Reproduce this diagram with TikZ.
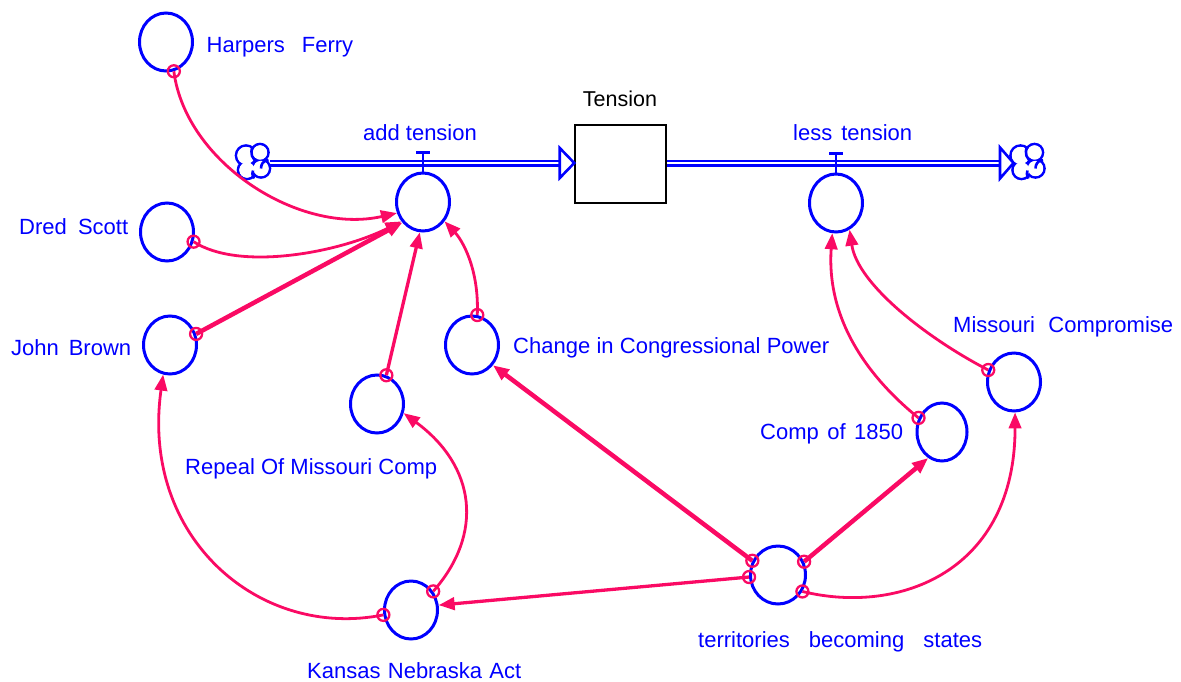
\documentclass[tikz,border=0pt]{standalone}
\usepackage{fontspec}
\setmainfont{Liberation Sans}
\usetikzlibrary{shapes.geometric,arrows.meta,calc}
\definecolor{vblue}{RGB}{0,0,255}
\definecolor{cpink}{RGB}{250,10,100}
\begin{document}
\begin{tikzpicture}[x=1pt,y=-1pt,
  var/.style={ellipse,draw=vblue,line width=3pt,minimum width=53pt,minimum height=58pt,inner sep=0pt},
  conn/.style={draw=cpink,line width=2.8pt,-{Triangle[length=16pt,width=12.5pt]}},
  thickconn/.style={conn,line width=4.5pt},
  medconn/.style={conn,line width=3.3pt},
  orig/.style={draw=cpink,line width=2.3pt},
  lbl/.style={text=vblue,inner sep=0pt,anchor=base west,font=\fontsize{22}{26}\selectfont},
  pipe/.style={draw=vblue,line width=2.6pt},
  cloudline/.style={draw=vblue,line width=2.6pt},
  stockbox/.style={rectangle,draw=black,line width=2.5pt,minimum width=91pt,minimum height=78pt,inner sep=0pt}
]
\useasboundingbox (0,0) rectangle (1181,681);

% ---- stock and flows ----
\node[stockbox] (stock) at (620.5,164) {};
\node[anchor=base,inner sep=0pt,font=\fontsize{21.5}{26}\selectfont] (stocklbl) at (620,106) {Tension};

\coordinate (cl) at (253,161.5);
\coordinate (cr) at (1027.5,161.5);
\foreach \c in {cl,cr}{
  \foreach \dx/\dy/\r in {-7/-6/10, 7/-9/8.5, 8/7/9, -6/8.5/9}
    \draw[cloudline] ($(\c)+(\dx,\dy)$) circle[radius=\r pt];
  \foreach \dx/\dy/\r in {-7/-6/10, 7/-9/8.5, 8/7/9, -6/8.5/9}
    \fill[white] ($(\c)+(\dx,\dy)$) circle[radius=\r pt - 1.3pt];
  \draw[cloudline] ($(\c)+(-0.5,-15)$) .. controls ($(\c)+(-3,-8)$) and ($(\c)+(-1,-2)$) .. ($(\c)+(4,-1)$);
  \draw[cloudline] ($(\c)+(15.5,-1.5)$) .. controls ($(\c)+(10,-1)$) and ($(\c)+(8,3)$) .. ($(\c)+(8,7)$);
  \draw[cloudline] ($(\c)+(1,17)$) .. controls ($(\c)+(-1,13)$) and ($(\c)+(-1,11)$) .. ($(\c)+(0,9)$);
}

\coordinate (clR) at ($(cl)+(17,1.5)$);
\coordinate (crL) at ($(cr)+(-14.5,1.5)$);

% left pipe
\draw[pipe] ($(clR)+(0,-2.2)$) -- ($(stock.west)+(-14,-3.2)$);
\draw[pipe] ($(clR)+(0,2.2)$) -- ($(stock.west)+(-14,1.2)$);
\draw[pipe,fill=white,line join=miter] ($(stock.west)+(-14,-16)$) -- ($(stock.west)+(0.5,-1)$) -- ($(stock.west)+(-14,14)$) -- cycle;
% right pipe
\draw[pipe] ($(stock.east)+(0,-3.2)$) -- ($(crL)+(-13,-2.2)$);
\draw[pipe] ($(stock.east)+(0,1.2)$) -- ($(crL)+(-13,2.2)$);
\draw[pipe,fill=white,line join=miter] ($(crL)+(-13,-15.5)$) -- ($(crL)+(0.5,0)$) -- ($(crL)+(-13,15.5)$) -- cycle;

% ---- variables ----
\node[var] (hf)    at (166,42)  {};
\node[var] (ds)    at (167,232) {};
\node[var] (jb)    at (170,345) {};
\node[var] (at)    at (423,202) {};
\node[var] (rmc)   at (377,404) {};
\node[var] (ccp)   at (472,345) {};
\node[var] (lt)    at (836,203) {};
\node[var,minimum width=50pt] (c1850) at (942,432) {};
\node[var] (mc)    at (1014,382) {};
\node[var,minimum width=55pt] (tbs) at (778,575) {};
\node[var] (kna)   at (411,610) {};

% valves
\draw[pipe] (at.north) -- ++(0,-19) coordinate (atv);
\draw[pipe] ($(atv)+(-7,0)$) -- ($(atv)+(7,0)$);
\draw[pipe] (lt.north) -- ++(0,-19) coordinate (ltv);
\draw[pipe] ($(ltv)+(-7,0)$) -- ($(ltv)+(7,0)$);

% ---- labels ----
\node[lbl] (hfl)  at (206.5,52) {\makebox[146.5pt][s]{Harpers Ferry}};
\node[lbl,anchor=base] (atl) at (420,140) {add tension};
\node[lbl] (ltl)  at (793,140) {\makebox[119pt][s]{less tension}};
\node[lbl] (dsl)  at (19,234) {\makebox[109pt][s]{Dred Scott}};
\node[lbl] (jbl)  at (11,355) {\makebox[120pt][s]{John Brown}};
\node[lbl] (ccpl) at (513,353) {\makebox[316pt][s]{Change in Congressional Power}};
\node[lbl] (rmcl) at (185,474) {\makebox[252pt][s]{Repeal Of Missouri Comp}};
\node[lbl] (mcl)  at (953,332) {\makebox[220pt][s]{Missouri Compromise}};
\node[lbl] (c1850l) at (760,439) {\makebox[143pt][s]{Comp of 1850}};
\node[lbl] (tbsl) at (698,647) {\makebox[284pt][s]{territories becoming states}};
\node[lbl] (knal) at (307,678) {\makebox[214pt][s]{Kansas Nebraska Act}};

% ---- connectors ----
\draw[conn] (hf.-75) .. controls +(12,92) and +(-97,22) .. (at.203);
\draw[conn] (ds.-20) .. controls +(46,30) and +(-62,31) .. (at.222);
\draw[thickconn] (jb.23) -- (at.225);
\draw[medconn] (rmc.72) -- (at.264.5);
\draw[conn] (ccp.80.5) .. controls +(2,-47) and +(17,18) .. (at.-42);
\draw[thickconn] (tbs.151) -- (ccp.-44);
\draw[medconn] (tbs.184) -- (kna.10.5);
\draw[thickconn] (tbs.27) -- (c1850.-118);
\draw[conn] (tbs.-34) .. controls +(98,24) and +(0,158) .. (mc.-88);
\draw[conn] (kna.40) .. controls +(51,-58) and +(72,53) .. (rmc.-19);
\draw[conn] (kna.190) .. controls +(-123,25) and +(-23,164) .. (jb.-103);
\draw[conn] (c1850.149) .. controls +(-52,-42) and +(-6,85) .. (lt.263);
\draw[conn] (mc.155) .. controls +(-60,-31) and +(8,55) .. (lt.-63);

% origin markers
\foreach \a in {hf.-75, ds.-20, jb.23, rmc.72, ccp.80.5, tbs.151, tbs.184, tbs.27, tbs.-34, kna.40, kna.190, c1850.149, mc.155}
  \draw[orig] (\a) circle[radius=6pt];
\end{tikzpicture}
\end{document}
